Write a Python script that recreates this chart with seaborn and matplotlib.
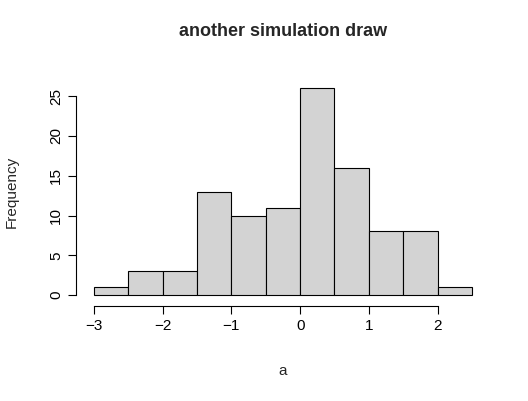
import matplotlib
matplotlib.use("Agg")
import matplotlib.pyplot as plt
import seaborn as sns
import numpy as np

edges = [-3.0, -2.5, -2.0, -1.5, -1.0, -0.5, 0.0, 0.5, 1.0, 1.5, 2.0, 2.5]
counts = [1, 3, 3, 13, 10, 11, 26, 16, 8, 8, 1]
xticks = [-3, -2, -1, 0, 1, 2]
yticks = [0, 5, 10, 15, 20, 25]

sns.set_style("white")
plt.rcParams['font.family'] = ['Liberation Sans', 'DejaVu Sans']

fig = plt.figure(figsize=(5.28, 4.01), dpi=100)
ax = fig.add_axes([0.1494, 0.2436, 0.773, 0.557])
centers = [(edges[i] + edges[i+1]) / 2 for i in range(len(counts))]
sns.histplot(x=centers, weights=counts, bins=edges, ax=ax, color="#d3d3d3",
             edgecolor="black", linewidth=0.8, alpha=1)
ax.set_xlim(-3.22, 2.72)
ax.set_ylim(-1.04, 27.04)
for s in ["top", "right"]:
    ax.spines[s].set_visible(False)
ax.spines["bottom"].set_bounds(-3, 2)
ax.spines["left"].set_bounds(0, 25)
ax.spines["bottom"].set_position(("outward", 2))
ax.spines["left"].set_position(("outward", 2))
for s in ["bottom", "left"]:
    ax.spines[s].set_color("black")
    ax.spines[s].set_linewidth(0.8)
ax.set_xticks(xticks)
ax.set_yticks(yticks)
ax.tick_params(axis="both", direction="out", length=6, width=0.8, colors="black",
               labelsize=11, bottom=True, left=True)
plt.setp(ax.get_yticklabels(), rotation=90, va="center")
ax.set_xlabel("a", fontsize=11, labelpad=22)
ax.set_ylabel("Frequency", fontsize=11, labelpad=22)
ax.set_title("another simulation draw", fontsize=13, fontweight="bold", pad=32)
fig.savefig("out.png", dpi=100)
